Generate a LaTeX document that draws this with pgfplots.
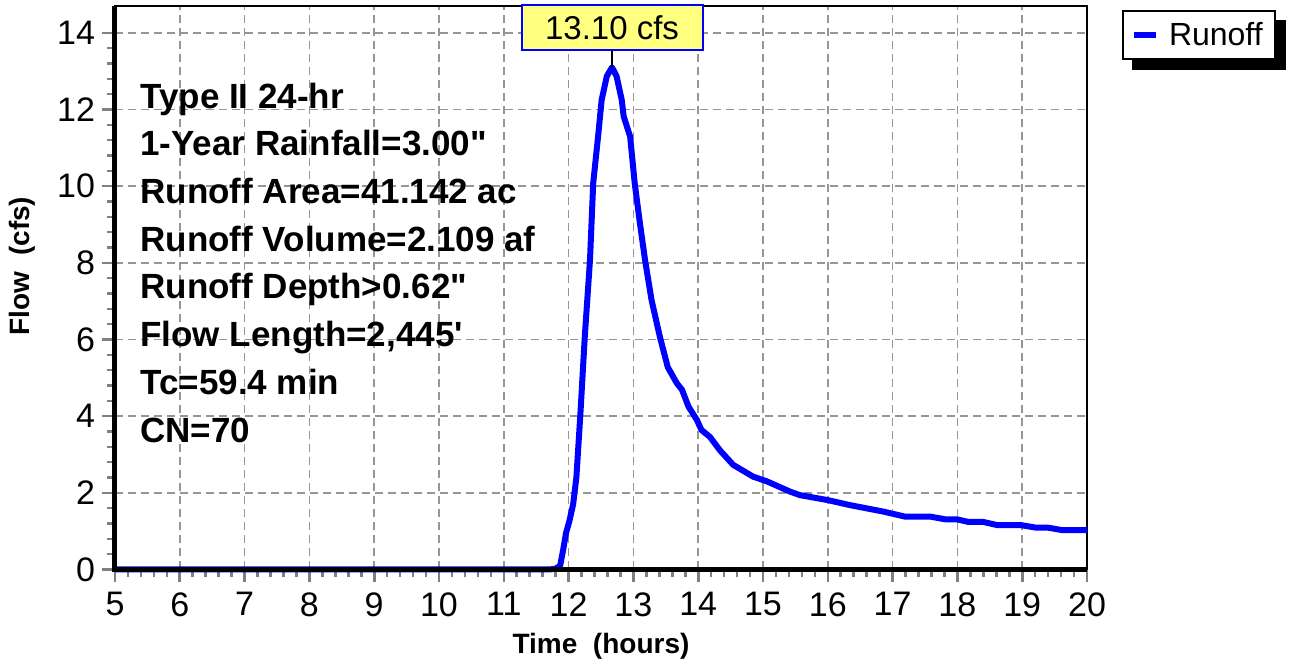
\documentclass[border=0pt]{standalone}
\usepackage{pgfplots}
\pgfplotsset{compat=1.18}
\usepackage{fontspec}
\setmainfont{Liberation Sans}
\usetikzlibrary{backgrounds}
\definecolor{gridgray}{RGB}{150,150,150}
\definecolor{tickgray}{RGB}{128,128,128}
\definecolor{runblue}{RGB}{0,0,255}
\definecolor{boxyellow}{RGB}{255,255,128}
\begin{document}
\begin{tikzpicture}
\begin{axis}[
  scale only axis, width=486pt, height=281.75pt,
  xmin=5, xmax=20, ymin=0, ymax=14.7,
  xtick={5,...,20}, ytick={0,2,...,14},
  minor x tick num=4, minor y tick num=4,
  xtick pos=bottom, ytick pos=left,
  tick align=outside,
  major tick length=6.5pt, minor tick length=4pt,
  every tick/.style={tickgray, line width=1.3pt},
  grid=major,
  major grid style={gridgray, line width=0.8pt, dash pattern=on 4pt off 2.5pt},
  axis line style={line width=1pt, black},
  tick label style={font=\fontsize{17}{19}\selectfont},
  /pgf/number format/assume math mode=true,
  xticklabel style={yshift=-1.5pt},
  yticklabel style={xshift=0pt},
  clip=false,
  legend style={at={(rel axis cs:1,1)}, anchor=north west, xshift=17.5pt, yshift=-2pt,
    draw=black, line width=1pt, fill=white, inner xsep=4pt, inner ysep=3.5pt,
    font=\fontsize{16}{18}\selectfont, name=leg,
    /tikz/every odd column/.append style={column sep=3pt}},
  legend cell align=left,
  legend image code/.code={\draw[#1, line width=3pt] (0pt,0pt) -- (11pt,0pt);},
]
\addplot[runblue, line width=3pt, line join=round] coordinates {
(5,0) (11.70,0) (11.80,0.02) (11.87,0.10) (11.92,0.55) (11.96,0.95) (12.01,1.25)
(12.07,1.70) (12.12,2.4) (12.18,4.0) (12.25,6.08) (12.33,8.07) (12.38,10.08)
(12.46,11.38) (12.51,12.25) (12.59,12.87) (12.67,13.10) (12.74,12.87) (12.82,12.25)
(12.85,11.82) (12.95,11.29) (13.02,10.08) (13.10,9.04) (13.18,8.07) (13.28,7.03)
(13.41,6.06) (13.53,5.28) (13.67,4.86) (13.75,4.69) (13.85,4.25) (13.98,3.90)
(14.05,3.64) (14.18,3.46) (14.34,3.10) (14.54,2.73) (14.85,2.42) (15.06,2.30)
(15.42,2.03) (15.57,1.94) (16.0,1.81) (16.34,1.68) (16.86,1.51) (17.19,1.38)
(17.58,1.38) (17.81,1.31) (17.99,1.31) (18.17,1.24) (18.40,1.24) (18.61,1.16)
(18.97,1.16) (19.22,1.09) (19.40,1.09) (19.61,1.03) (20,1.03)
};
\addlegendentry{Runoff}
\draw[line width=2.5pt, black] (rel axis cs:0,1) -- (rel axis cs:0,0) -- (rel axis cs:1,0);
\coordinate (pkx) at (axis cs:12.67,13.10);
\coordinate (topc) at (rel axis cs:0,1);
\coordinate (SW) at (rel axis cs:0,0);
\coordinate (NE) at (rel axis cs:1,1);
\node[draw=runblue, line width=1pt, fill=boxyellow, minimum width=90.5pt, minimum height=22.5pt,
  inner sep=0pt, anchor=north, yshift=1pt, font=\fontsize{16.5}{18}\selectfont] (pk) at (pkx |- topc) {13.10 cfs};
\draw[black, line width=0.8pt] (pk.south) -- (pkx);
\node[anchor=base west, inner sep=0pt, font=\bfseries\fontsize{17.5}{20}\selectfont] at (axis cs:5.386,12.035) {Type II 24-hr};
\node[anchor=base west, inner sep=0pt, font=\bfseries\fontsize{17.5}{20}\selectfont] at (axis cs:5.386,10.79) {1-Year Rainfall=3.00\textquotedbl};
\node[anchor=base west, inner sep=0pt, font=\bfseries\fontsize{17.5}{20}\selectfont] at (axis cs:5.386,9.546) {Runoff Area=41.142 ac};
\node[anchor=base west, inner sep=0pt, font=\bfseries\fontsize{17.5}{20}\selectfont] at (axis cs:5.386,8.301) {Runoff Volume=2.109 af};
\node[anchor=base west, inner sep=0pt, font=\bfseries\fontsize{17.5}{20}\selectfont] at (axis cs:5.386,7.059) {Runoff Depth>0.62\textquotedbl};
\node[anchor=base west, inner sep=0pt, font=\bfseries\fontsize{17.5}{20}\selectfont] at (axis cs:5.386,5.812) {Flow Length=2,445\textquotesingle};
\node[anchor=base west, inner sep=0pt, font=\bfseries\fontsize{17.5}{20}\selectfont] at (axis cs:5.386,4.567) {Tc=59.4 min};
\node[anchor=base west, inner sep=0pt, font=\bfseries\fontsize{17.5}{20}\selectfont] at (axis cs:5.386,3.322) {CN=70};
\node[rotate=90, anchor=base, inner sep=0pt, font=\bfseries\fontsize{14}{16}\selectfont] at (axis cs:3.688,7.92) {Flow\ \ (cfs)};
\node[anchor=base, inner sep=0pt, font=\bfseries\fontsize{14}{16}\selectfont] at (axis cs:12.5,-2.179) {Time\ \ (hours)};
\end{axis}
\begin{scope}[on background layer]
\fill[black] ([shift={(5pt,-5pt)}]leg.south west) rectangle ([shift={(5pt,-5pt)}]leg.north east);
\end{scope}
\pgfresetboundingbox
\path[use as bounding box] ([shift={(-57.5pt,-46.75pt)}]SW) rectangle ([shift={(102pt,3pt)}]NE);
\end{tikzpicture}
\end{document}
